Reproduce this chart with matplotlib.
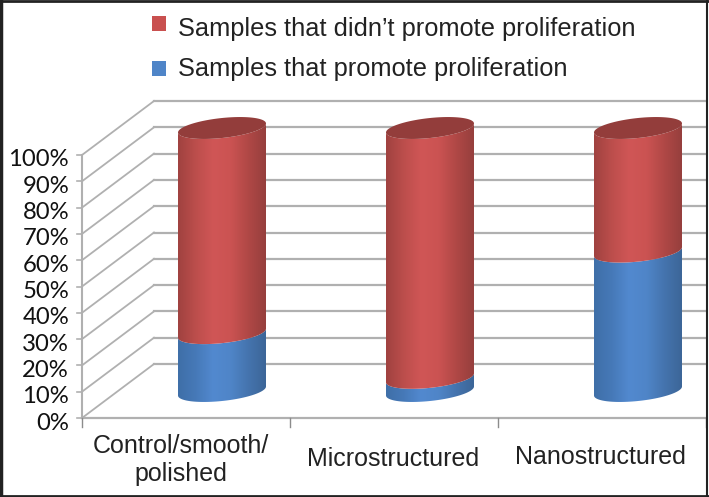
import numpy as np
import matplotlib
matplotlib.use("Agg")
import matplotlib.pyplot as plt
from matplotlib.colors import LinearSegmentedColormap
from matplotlib.patches import Polygon, Rectangle

# values
categories = ["Control/smooth/\npolished", "Microstructured", "Nanostructured"]
promote = [22, 5, 53]
not_promote = [78, 95, 47]
pct_ticks = [0, 10, 20, 30, 40, 50, 60, 70, 80, 90, 100]
legend_names = ["Samples that didn\u2019t promote proliferation", "Samples that promote proliferation"]

# projection of the 3d box, in pixels
X0, X1 = 82, 706
Y0, PX_PER_PCT = 418, 2.63
DX, DY = 72, 54
GROUP = (X1 - X0) / 3
A, B, SKEW = 44, 10, 4.5

RED = ["#a04240", "#bc4e4c", "#d05656", "#cb5352", "#b04846", "#963f3d"]
BLUE = ["#3f6fa8", "#4679b8", "#5289cf", "#4f85c8", "#4574ae", "#3c6698"]
LID = "#933d3b"
GRID = "#b0b0b0"


def px(x, pct, depth=0.0):
    return x + DX * depth, Y0 - PX_PER_PCT * pct - DY * depth


def front_arc(cx, cy):
    t = np.linspace(0, np.pi, 60)
    return cx + A * np.cos(t), cy - SKEW * np.cos(t) + B * np.sin(t)


def segment(ax, cx, low, high, colors):
    _, y_low = px(0, low, 0.5)
    _, y_high = px(0, high, 0.5)
    xa, ya = front_arc(cx, y_low)
    xb, yb = front_arc(cx, y_high)
    pts = np.vstack([np.column_stack([xa, ya]), np.column_stack([xb[::-1], yb[::-1]])])
    poly = Polygon(pts, closed=True, facecolor="none", edgecolor="none", zorder=4)
    ax.add_patch(poly)
    cmap = LinearSegmentedColormap.from_list("c", colors)
    grad = np.linspace(0, 1, 200).reshape(1, -1)
    im = ax.imshow(grad, cmap=cmap, aspect="auto", zorder=4,
                   extent=(cx - A, cx + A, pts[:, 1].max() + 1, pts[:, 1].min() - 1))
    im.set_clip_path(poly)


fig = plt.figure(figsize=(7.09, 4.97), dpi=100)
ax = fig.add_axes([0, 0, 1, 1])

# wall and floor lines
for p in pct_ticks:
    x_f, y_f = px(X0, p)
    x_b, y_b = px(X0, p, 1)
    ax.plot([x_f, x_b], [y_f, y_b], color=GRID, lw=1.3, zorder=1)
    ax.plot([x_b, X1], [y_b, y_b], color=GRID, lw=1.6, zorder=1)
    ax.plot([x_f - 5, x_f], [y_f, y_f], color=GRID, lw=1.2, zorder=2)
    ax.text(x_f - 13, y_f + 5, f"{p}%", ha="right", va="center", fontsize=17.2,
            family="Lato", color="#111111")

ax.plot([X0, X0], [px(X0, 0)[1], px(X0, 100)[1]], color=GRID, lw=1.5, zorder=2)
ax.plot([X0, X1], [Y0, Y0], color=GRID, lw=1.6, zorder=2)
for i in range(4):
    ax.plot([X0 + GROUP * i] * 2, [Y0, Y0 + 9], color="#8c8c8c", lw=1.0, zorder=2)

# cylinders
for i in range(len(categories)):
    cx = px(X0 + GROUP * (i + 0.5), 0, 0.5)[0]
    segment(ax, cx, 0, promote[i], BLUE)
    segment(ax, cx, promote[i], promote[i] + not_promote[i], RED)
    t = np.linspace(0, 2 * np.pi, 120)
    cy = px(0, promote[i] + not_promote[i], 0.5)[1]
    ax.fill(cx + A * np.cos(t), cy - SKEW * np.cos(t) + B * np.sin(t), color=LID, lw=0, zorder=5)

# category labels
label_pos = [(181, 460), (393, 459), (600, 457)]
for name, (x, y) in zip(categories, label_pos):
    ax.text(x, y, name, ha="center", va="center", fontsize=18, family="Liberation Sans",
            color="#222222", linespacing=1.2)

# legend
legend_colors = ["#c9504f", "#4f85c8"]
legend_y = [23, 68]
legend_text_y = [29, 69]
for name, col, y, ty in zip(legend_names, legend_colors, legend_y, legend_text_y):
    ax.add_patch(Rectangle((152, y - 7.5), 14, 15, facecolor=col, edgecolor="none"))
    ax.text(178, ty, name, ha="left", va="center", fontsize=18.3, family="Liberation Sans",
            color="#222222")

# outer frame
ax.plot([1, 1], [0, 497], color="#222222", lw=2.5, zorder=6)
ax.plot([0, 709], [0.5, 0.5], color="#222222", lw=2, zorder=6)
ax.plot([707, 707], [0, 497], color="#222222", lw=1.5, zorder=6)
ax.plot([0, 709], [496, 496], color="#222222", lw=2, zorder=6)

ax.set_xlim(0, 709)
ax.set_ylim(497, 0)
ax.axis("off")

fig.savefig("out.png", dpi=100)
